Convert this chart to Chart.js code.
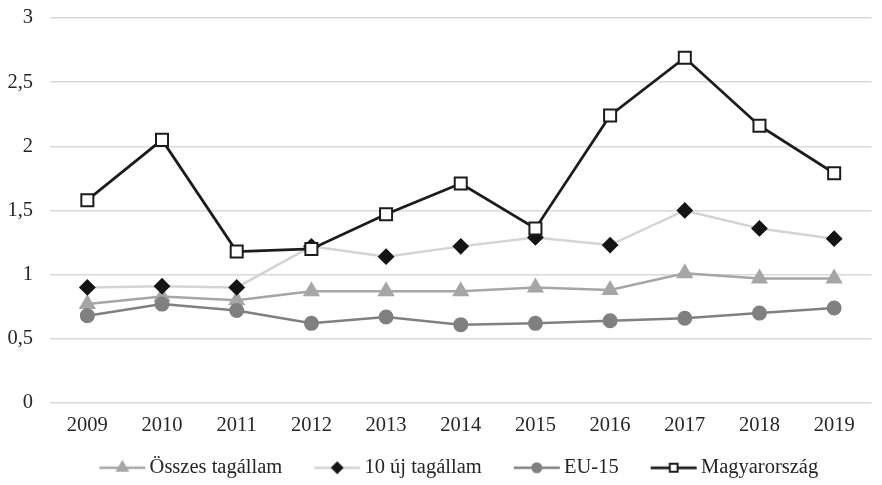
<!DOCTYPE html>
<html>
<head>
<meta charset="utf-8">
<script src="https://cdn.jsdelivr.net/npm/chart.js@4.4.1/dist/chart.umd.min.js"></script>
<style>
  html, body { margin: 0; padding: 0; background: #ffffff; }
  #wrap { width: 882px; height: 485px; position: relative; }
</style>
</head>
<body>
<div id="wrap"><canvas id="chart"></canvas></div>
<script>
// Years on the horizontal axis
const years = ['2009', '2010', '2011', '2012', '2013', '2014', '2015', '2016', '2017', '2018', '2019'];

// Series values
const osszesTagallam = [0.77, 0.83, 0.80, 0.87, 0.87, 0.87, 0.90, 0.88, 1.01, 0.97, 0.97];
const ujTagallam10   = [0.90, 0.91, 0.90, 1.22, 1.14, 1.22, 1.29, 1.23, 1.50, 1.36, 1.28];
const eu15           = [0.68, 0.77, 0.72, 0.62, 0.67, 0.61, 0.62, 0.64, 0.66, 0.70, 0.74];
const magyarorszag   = [1.58, 2.05, 1.18, 1.20, 1.47, 1.71, 1.36, 2.24, 2.69, 2.16, 1.79];

// Series names
const seriesNames = ['Összes tagállam', '10 új tagállam', 'EU-15', 'Magyarország'];

const FONT = '"Liberation Serif", "Times New Roman", serif';
const TEXT = '#262626';

// Legend geometry: the swatch image has a transparent left margin so the
// items get wide gaps while the swatch sits close to its text.
const BOX_W = 62;
const ICON_W = 48;
const IMG_W = BOX_W + 14;

// Legend swatch: a line with the series marker in the middle
function legendIcon(s, radius) {
  const c = document.createElement('canvas');
  c.width = IMG_W; c.height = 18;
  const ctx = c.getContext('2d');
  const x0 = IMG_W - ICON_W;
  ctx.strokeStyle = s.line;
  ctx.lineWidth = s.width;
  ctx.beginPath();
  ctx.moveTo(x0 + 1, 9); ctx.lineTo(IMG_W - 1, 9);
  ctx.stroke();
  ctx.fillStyle = s.fill;
  ctx.strokeStyle = s.stroke;
  ctx.lineWidth = 2;
  Chart.helpers.drawPoint(ctx, { pointStyle: s.point, radius: radius, rotation: 0, borderWidth: 2 },
                          x0 + ICON_W / 2, 9);
  return c;
}

const styles = [
  { line: '#a6a6a6', width: 2.5, point: 'triangle', fill: '#a6a6a6', stroke: '#a6a6a6', r: 8, lr: 6, order: 3 },
  { line: '#d4d4d4', width: 2.5, point: 'rectRot',  fill: '#141414', stroke: '#141414', r: 7, lr: 5, order: 2 },
  { line: '#808080', width: 2.5, point: 'circle',   fill: '#808080', stroke: '#808080', r: 6.5, lr: 4.5, order: 1 },
  { line: '#1c1c1c', width: 2.75, point: 'rect',    fill: '#ffffff', stroke: '#1c1c1c', r: 8.5, lr: 5.5, order: 0 }
];
const values = [osszesTagallam, ujTagallam10, eu15, magyarorszag];

const datasets = values.map((v, i) => ({
  label: seriesNames[i],
  data: v,
  borderColor: styles[i].line,
  borderWidth: styles[i].width,
  pointStyle: styles[i].point,
  pointRadius: styles[i].r,
  pointHoverRadius: styles[i].r,
  pointBackgroundColor: styles[i].fill,
  pointBorderColor: styles[i].stroke,
  pointBorderWidth: 2,
  tension: 0,
  fill: false,
  order: styles[i].order
}));

// Nudge the legend row sideways after layout
const legendShift = {
  id: 'legendShift',
  afterLayout(chart) {
    if (chart.legend) {
      chart.legend.left -= 13;
      chart.legend.right -= 13;
    }
  }
};

new Chart(document.getElementById('chart'), {
  type: 'line',
  data: { labels: years, datasets: datasets },
  plugins: [legendShift],
  options: {
    responsive: true,
    maintainAspectRatio: false,
    animation: false,
    devicePixelRatio: 1,
    layout: { padding: { top: 0, right: 7, left: 0, bottom: -3 } },
    plugins: {
      tooltip: { enabled: false },
      legend: {
        position: 'bottom',
        fullSize: false,
        labels: {
          usePointStyle: true,
          pointStyleWidth: BOX_W,
          padding: 10,
          color: TEXT,
          font: { family: FONT, size: 20.5 },
          generateLabels: (chart) => chart.data.datasets.map((ds, i) => ({
            text: ds.label,
            datasetIndex: i,
            pointStyle: legendIcon(styles[i], styles[i].lr),
            fillStyle: styles[i].fill,
            strokeStyle: styles[i].stroke,
            lineWidth: 0,
            hidden: false,
            fontColor: TEXT
          }))
        }
      }
    },
    scales: {
      x: {
        offset: true,
        grid: { display: false, drawTicks: false },
        border: { display: false },
        ticks: { color: TEXT, font: { family: FONT, size: 20.5 }, padding: 10, maxRotation: 0 }
      },
      y: {
        min: 0, max: 3,
        afterFit: (scale) => {
          scale.width = 50;
          scale.paddingTop = 18;
          scale.paddingBottom = 0;
        },
        grid: { color: '#d9d9d9', lineWidth: 1.5, drawTicks: false },
        border: { display: false },
        ticks: {
          stepSize: 0.5,
          padding: 17,
          color: TEXT,
          font: { family: FONT, size: 20.5 },
          callback: (v) => String(v).replace('.', ',')
        }
      }
    }
  }
});
</script>
</body>
</html>
